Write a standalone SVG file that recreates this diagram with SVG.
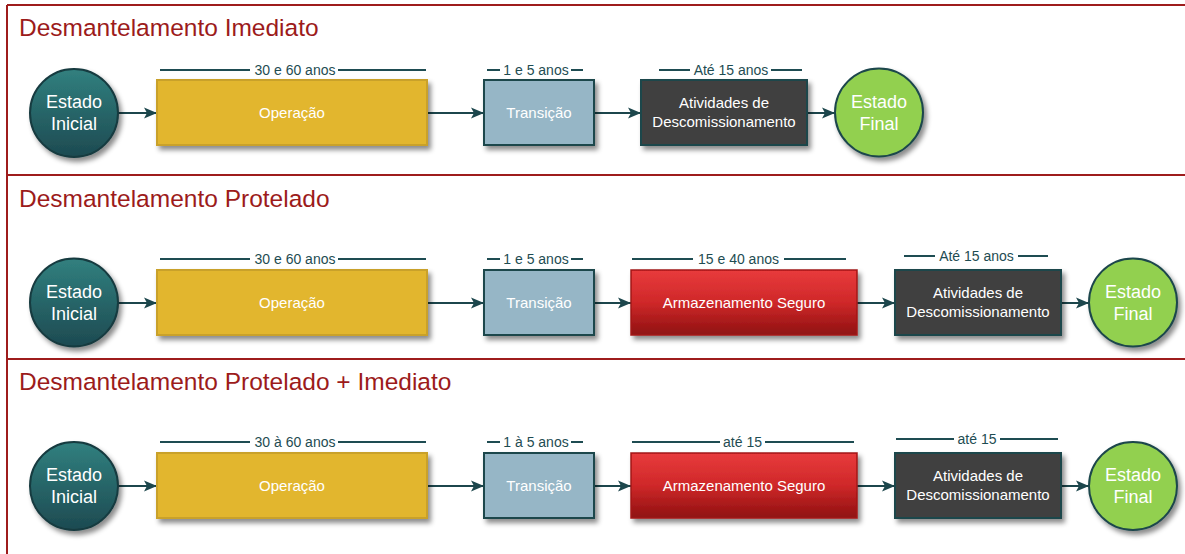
<svg xmlns="http://www.w3.org/2000/svg" width="1185" height="554" viewBox="0 0 1185 554">
  <defs>
    <style>
      .frame { stroke: #9E1C1C; stroke-width: 2; fill: none; }
      .title { font-family: "Liberation Sans", Arial, sans-serif; font-size: 24.5px; fill: #9C1B1B; }
      .lbl { font-family: "Liberation Sans", Arial, sans-serif; font-size: 14px; fill: #1E4C52; text-anchor: middle; }
      .dur { stroke: #1E4C52; stroke-width: 2; fill: none; }
      .ntxt { font-family: "Liberation Sans", Arial, sans-serif; font-size: 15px; fill: #FFFFFF; text-anchor: middle; }
      .ctxt { font-family: "Liberation Sans", Arial, sans-serif; font-size: 18px; fill: #FFFFFF; text-anchor: middle; }
      .op { fill: #E2B62F; stroke: #C9A12A; stroke-width: 2; }
      .tr { fill: #96B6C6; stroke: #1C464C; stroke-width: 2; }
      .st { fill: url(#redGrad); stroke: #A31717; stroke-width: 1.5; }
      .dc { fill: #404040; stroke: #1C464C; stroke-width: 2; }
      .ini { fill: url(#tealGrad); stroke: #173A3F; stroke-width: 2; }
      .fin { fill: #92D050; stroke: #1C464C; stroke-width: 2; }
      .conn { stroke: #1C464C; stroke-width: 2; fill: none; marker-end: url(#arrow); }
    </style>
    <linearGradient id="tealGrad" x1="0" y1="0" x2="0" y2="1">
      <stop offset="0" stop-color="#31807F"/>
      <stop offset="1" stop-color="#1D4A51"/>
    </linearGradient>
    <linearGradient id="redGrad" x1="0" y1="0" x2="0" y2="1">
      <stop offset="0" stop-color="#E83B3C"/>
      <stop offset="0.5" stop-color="#CF2829"/>
      <stop offset="1" stop-color="#8F1111"/>
    </linearGradient>
    <filter id="shadow" x="-20%" y="-20%" width="150%" height="160%">
      <feDropShadow dx="3" dy="4" stdDeviation="2.5" flood-color="#000" flood-opacity="0.45"/>
    </filter>
    <filter id="soft" x="-200%" y="-5%" width="500%" height="110%">
      <feGaussianBlur stdDeviation="1.5"/>
    </filter>
    <marker id="arrow" markerUnits="userSpaceOnUse" markerWidth="14" markerHeight="12" refX="13" refY="6" orient="auto">
      <path d="M0,0.5 L13,6 L0,11.5 L3,6 Z" fill="#1C464C"/>
    </marker>
  </defs>

  <rect width="1185" height="554" fill="#FFFFFF"/>

  <!-- section frames -->
  <g id="frames">
    <line x1="4" y1="6" x2="4" y2="554" stroke="#8A8A8A" stroke-width="3" opacity="0.45" filter="url(#soft)"/>
    <line class="frame" x1="7" y1="5" x2="7" y2="554"/>
    <line class="frame" x1="7" y1="5" x2="1185" y2="5"/>
    <line class="frame" x1="7" y1="175" x2="1185" y2="175"/>
    <line class="frame" x1="7" y1="359" x2="1185" y2="359"/>
    <text class="title" x="19" y="36">Desmantelamento Imediato</text>
    <text class="title" x="19" y="207">Desmantelamento Protelado</text>
    <text class="title" x="19" y="390">Desmantelamento Protelado + Imediato</text>
  </g>

  <!-- duration labels -->
  <g id="durations">
    <!-- row 1 -->
    <path class="dur" d="M160,70 H250 M338,70 H426 M487,70 H500 M571,70 H583 M659,70 H690 M771,70 H802"/>
    <text class="lbl" x="295" y="74.5">30 e 60 anos</text>
    <text class="lbl" x="536" y="74.5">1 e 5 anos</text>
    <text class="lbl" x="731" y="74.5">Até 15 anos</text>
    <!-- row 2 -->
    <path class="dur" d="M160,259 H250 M338,259 H426 M487,259 H500 M571,259 H583 M632,259 H693 M784,259 H846 M904,256 H935 M1018,256 H1048"/>
    <text class="lbl" x="295" y="263.5">30 e 60 anos</text>
    <text class="lbl" x="536" y="263.5">1 e 5 anos</text>
    <text class="lbl" x="738.5" y="263.5">15 e 40 anos</text>
    <text class="lbl" x="976.5" y="260.5">Até 15 anos</text>
    <!-- row 3 -->
    <path class="dur" d="M160,442 H250 M338,442 H426 M487,442 H500 M571,442 H583 M632,442 H720 M765,442 H854 M896,439 H954 M1000,439 H1058"/>
    <text class="lbl" x="295" y="447">30 à 60 anos</text>
    <text class="lbl" x="536" y="447">1 à 5 anos</text>
    <text class="lbl" x="742.5" y="447">até 15</text>
    <text class="lbl" x="977" y="444">até 15</text>
  </g>

  <!-- connectors -->
  <g id="connectors">
    <line class="conn" x1="118" y1="113" x2="157" y2="113"/>
    <line class="conn" x1="427" y1="113" x2="484" y2="113"/>
    <line class="conn" x1="594" y1="113" x2="641" y2="113"/>
    <line class="conn" x1="807" y1="113" x2="835" y2="113"/>

    <line class="conn" x1="118" y1="303" x2="157" y2="303"/>
    <line class="conn" x1="427" y1="303" x2="484" y2="303"/>
    <line class="conn" x1="594" y1="303" x2="631" y2="303"/>
    <line class="conn" x1="857" y1="303" x2="895" y2="303"/>
    <line class="conn" x1="1061" y1="303" x2="1089" y2="303"/>

    <line class="conn" x1="118" y1="486" x2="157" y2="486"/>
    <line class="conn" x1="427" y1="486" x2="484" y2="486"/>
    <line class="conn" x1="594" y1="486" x2="631" y2="486"/>
    <line class="conn" x1="857" y1="486" x2="895" y2="486"/>
    <line class="conn" x1="1061" y1="486" x2="1089" y2="486"/>
  </g>

  <!-- row 1: Desmantelamento Imediato -->
  <g id="r1-inicial">
    <circle class="ini" cx="74" cy="113" r="44" filter="url(#shadow)"/>
    <text class="ctxt" x="74" y="108">Estado</text>
    <text class="ctxt" x="74" y="130">Inicial</text>
  </g>
  <g id="r1-operacao">
    <rect class="op" x="157" y="80" width="270" height="65" filter="url(#shadow)"/>
    <text class="ntxt" x="292" y="117.5">Operação</text>
  </g>
  <g id="r1-transicao">
    <rect class="tr" x="484" y="80" width="110" height="65" filter="url(#shadow)"/>
    <text class="ntxt" x="539" y="117.5">Transição</text>
  </g>
  <g id="r1-atividades">
    <rect class="dc" x="641" y="80" width="166" height="65" filter="url(#shadow)"/>
    <text class="ntxt" x="724" y="107.5">Atividades de</text>
    <text class="ntxt" x="724" y="126.5">Descomissionamento</text>
  </g>
  <g id="r1-final">
    <circle class="fin" cx="879" cy="112.5" r="44" filter="url(#shadow)"/>
    <text class="ctxt" x="879" y="107.5">Estado</text>
    <text class="ctxt" x="879" y="129.5">Final</text>
  </g>

  <!-- row 2: Desmantelamento Protelado -->
  <g id="r2-inicial">
    <circle class="ini" cx="74" cy="302.5" r="44" filter="url(#shadow)"/>
    <text class="ctxt" x="74" y="297.5">Estado</text>
    <text class="ctxt" x="74" y="319.5">Inicial</text>
  </g>
  <g id="r2-operacao">
    <rect class="op" x="157" y="270" width="270" height="65" filter="url(#shadow)"/>
    <text class="ntxt" x="292" y="307.5">Operação</text>
  </g>
  <g id="r2-transicao">
    <rect class="tr" x="484" y="270" width="110" height="65" filter="url(#shadow)"/>
    <text class="ntxt" x="539" y="307.5">Transição</text>
  </g>
  <g id="r2-armazenamento">
    <rect class="st" x="631" y="270" width="226" height="65" filter="url(#shadow)"/>
    <text class="ntxt" x="744" y="307.5">Armazenamento Seguro</text>
  </g>
  <g id="r2-atividades">
    <rect class="dc" x="895" y="270" width="166" height="65" filter="url(#shadow)"/>
    <text class="ntxt" x="978" y="297.5">Atividades de</text>
    <text class="ntxt" x="978" y="316.5">Descomissionamento</text>
  </g>
  <g id="r2-final">
    <circle class="fin" cx="1133" cy="302.5" r="44" filter="url(#shadow)"/>
    <text class="ctxt" x="1133" y="297.5">Estado</text>
    <text class="ctxt" x="1133" y="319.5">Final</text>
  </g>

  <!-- row 3: Desmantelamento Protelado + Imediato -->
  <g id="r3-inicial">
    <circle class="ini" cx="74" cy="486" r="44" filter="url(#shadow)"/>
    <text class="ctxt" x="74" y="481">Estado</text>
    <text class="ctxt" x="74" y="503">Inicial</text>
  </g>
  <g id="r3-operacao">
    <rect class="op" x="157" y="453" width="270" height="65" filter="url(#shadow)"/>
    <text class="ntxt" x="292" y="490.5">Operação</text>
  </g>
  <g id="r3-transicao">
    <rect class="tr" x="484" y="453" width="110" height="65" filter="url(#shadow)"/>
    <text class="ntxt" x="539" y="490.5">Transição</text>
  </g>
  <g id="r3-armazenamento">
    <rect class="st" x="631" y="453" width="226" height="65" filter="url(#shadow)"/>
    <text class="ntxt" x="744" y="490.5">Armazenamento Seguro</text>
  </g>
  <g id="r3-atividades">
    <rect class="dc" x="895" y="453" width="166" height="65" filter="url(#shadow)"/>
    <text class="ntxt" x="978" y="480.5">Atividades de</text>
    <text class="ntxt" x="978" y="499.5">Descomissionamento</text>
  </g>
  <g id="r3-final">
    <circle class="fin" cx="1133" cy="486" r="44" filter="url(#shadow)"/>
    <text class="ctxt" x="1133" y="481">Estado</text>
    <text class="ctxt" x="1133" y="503">Final</text>
  </g>
</svg>
